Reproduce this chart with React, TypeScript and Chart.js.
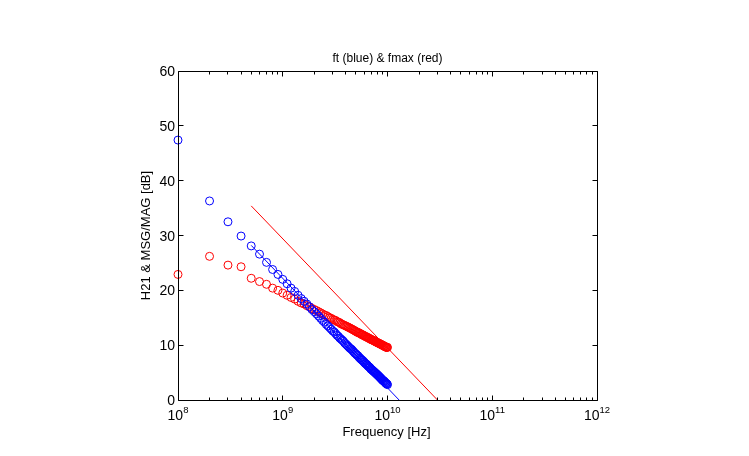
import { useEffect, useRef } from "react";
import { Chart, registerables } from "chart.js";

Chart.register(...registerables);

// Frequencies in units of 1e8 Hz (0.1 GHz ... 10 GHz)
const FREQ_E8 = [
  1, 2, 3, 4, 5, 6, 7, 8, 9, 10,
  11, 12, 13, 14, 15, 16, 17, 18, 19, 20,
  21, 22, 23, 24, 25, 26, 27, 28, 29, 30,
  31, 32, 33, 34, 35, 36, 37, 38, 39, 40,
  41, 42, 43, 44, 45, 46, 47, 48, 49, 50,
  51, 52, 53, 54, 55, 56, 57, 58, 59, 60,
  61, 62, 63, 64, 65, 66, 67, 68, 69, 70,
  71, 72, 73, 74, 75, 76, 77, 78, 79, 80,
  81, 82, 83, 84, 85, 86, 87, 88, 89, 90,
  91, 92, 93, 94, 95, 96, 97, 98, 99, 100,
];

// |H21| in dB (blue circles)
const H21_DB = [
  47.4, 36.3, 32.5, 29.9, 28.1, 26.6, 25.1, 23.8, 22.9, 22.0,
  21.2, 20.4, 19.8, 19.1, 18.5, 18.0, 17.5, 17.0, 16.5, 16.1,
  15.7, 15.3, 14.9, 14.5, 14.2, 13.8, 13.5, 13.2, 12.9, 12.6,
  12.4, 12.1, 11.8, 11.6, 11.3, 11.1, 10.9, 10.7, 10.4, 10.2,
  10.0, 9.8, 9.6, 9.4, 9.3, 9.1, 8.9, 8.7, 8.5, 8.4,
  8.2, 8.1, 7.9, 7.7, 7.6, 7.4, 7.3, 7.2, 7.0, 6.9,
  6.7, 6.6, 6.5, 6.4, 6.2, 6.1, 6.0, 5.9, 5.7, 5.6,
  5.5, 5.4, 5.3, 5.2, 5.1, 5.0, 4.9, 4.8, 4.7, 4.6,
  4.5, 4.4, 4.3, 4.2, 4.1, 4.0, 3.9, 3.8, 3.7, 3.6,
  3.5, 3.5, 3.4, 3.3, 3.2, 3.1, 3.0, 3.0, 2.9, 2.8,
];

// MSG/MAG in dB (red circles)
const MSG_DB = [
  22.9, 26.2, 24.6, 24.3, 22.2, 21.6, 21.1, 20.4, 20.0, 19.5,
  19.1, 18.7, 18.4, 18.0, 17.7, 17.5, 17.2, 17.0, 16.7, 16.5,
  16.3, 16.1, 15.9, 15.7, 15.5, 15.4, 15.2, 15.0, 14.9, 14.7,
  14.6, 14.5, 14.3, 14.2, 14.1, 13.9, 13.8, 13.7, 13.6, 13.5,
  13.4, 13.3, 13.2, 13.1, 13.0, 12.9, 12.8, 12.7, 12.6, 12.5,
  12.4, 12.3, 12.3, 12.2, 12.1, 12.0, 11.9, 11.9, 11.8, 11.7,
  11.6, 11.6, 11.5, 11.4, 11.4, 11.3, 11.2, 11.2, 11.1, 11.0,
  11.0, 10.9, 10.9, 10.8, 10.8, 10.7, 10.6, 10.6, 10.5, 10.5,
  10.4, 10.4, 10.3, 10.3, 10.2, 10.2, 10.1, 10.1, 10.0, 10.0,
  9.9, 9.9, 9.8, 9.8, 9.7, 9.7, 9.6, 9.6, 9.6, 9.6,
];

// -20 dB/decade extrapolation lines
const FT_LINE_HZ = [5e8, 1.29e10];
const FT_LINE_DB = [28.2, 0];
const FMAX_LINE_HZ = [5e8, 3.0e10];
const FMAX_LINE_DB = [35.4, 0];

// Axis ticks
const X_MAJOR_EXP = [8, 9, 10, 11, 12];
const X_MINOR_MULT = [2, 3, 4, 5, 6, 7, 8, 9];
const Y_TICKS = [0, 10, 20, 30, 40, 50, 60];

const TITLE = "ft (blue) & fmax (red)";
const X_LABEL = "Frequency [Hz]";
const Y_LABEL = "H21 & MSG/MAG [dB]";

const FONT = '"Liberation Sans", Arial, Helvetica, sans-serif';

const toPoints = (xs: number[], ys: number[], scale = 1) =>
  xs.map((x, i) => ({ x: x * scale, y: ys[i] }));

const matlabAxes = {
  id: "matlabAxes",
  afterDatasetsDraw(chart: any) {
    const { ctx, chartArea: a, scales } = chart;
    const xs = scales.x;
    const ys = scales.y;
    const L = Math.floor(a.left) + 0.5;
    const R = Math.floor(a.right) + 0.5;
    const T = Math.floor(a.top) + 0.5;
    const B = Math.floor(a.bottom) + 0.5;
    ctx.save();
    ctx.strokeStyle = "#000";
    ctx.lineWidth = 1;
    ctx.beginPath();
    ctx.rect(L, T, R - L, B - T);
    ctx.stroke();

    // x ticks
    ctx.beginPath();
    X_MAJOR_EXP.forEach((e, idx) => {
      const px = Math.floor(xs.getPixelForValue(Math.pow(10, e))) + 0.5;
      ctx.moveTo(px, B);
      ctx.lineTo(px, B - 5);
      ctx.moveTo(px, T);
      ctx.lineTo(px, T + 5);
      if (idx < X_MAJOR_EXP.length - 1) {
        X_MINOR_MULT.forEach((m) => {
          const mx = Math.floor(xs.getPixelForValue(m * Math.pow(10, e))) + 0.5;
          ctx.moveTo(mx, B);
          ctx.lineTo(mx, B - 3);
          ctx.moveTo(mx, T);
          ctx.lineTo(mx, T + 3);
        });
      }
    });
    // y ticks
    Y_TICKS.forEach((v) => {
      const py = Math.floor(ys.getPixelForValue(v)) + 0.5;
      ctx.moveTo(L, py);
      ctx.lineTo(L + 5, py);
      ctx.moveTo(R, py);
      ctx.lineTo(R - 5, py);
    });
    ctx.stroke();

    ctx.fillStyle = "#000";
    // y tick labels
    ctx.font = `14px ${FONT}`;
    ctx.textAlign = "right";
    ctx.textBaseline = "alphabetic";
    Y_TICKS.forEach((v) => {
      const py = ys.getPixelForValue(v);
      ctx.fillText(String(v), a.left - 3, py + 5);
    });

    // x tick labels 10^e
    X_MAJOR_EXP.forEach((e) => {
      const px = xs.getPixelForValue(Math.pow(10, e));
      ctx.font = `14px ${FONT}`;
      const wBase = ctx.measureText("10").width;
      ctx.font = `9.5px ${FONT}`;
      const wExp = ctx.measureText(String(e)).width;
      const x0 = px - (wBase + wExp) / 2;
      ctx.textAlign = "left";
      ctx.font = `14px ${FONT}`;
      ctx.fillText("10", x0, a.bottom + 19.5);
      ctx.font = `9.5px ${FONT}`;
      ctx.fillText(String(e), x0 + wBase, a.bottom + 13);
    });

    // title
    ctx.font = `12px ${FONT}`;
    ctx.textAlign = "center";
    ctx.fillText(TITLE, (a.left + a.right) / 2, 62);

    // x label
    ctx.font = `13px ${FONT}`;
    ctx.fillText(X_LABEL, (a.left + a.right) / 2 - 1, 436);

    // y label
    ctx.save();
    ctx.translate(149.5, (a.top + a.bottom) / 2);
    ctx.rotate(-Math.PI / 2);
    ctx.textAlign = "center";
    ctx.fillText(Y_LABEL, 0, 0);
    ctx.restore();

    ctx.restore();
  },
};

export default function App() {
  const ref = useRef<HTMLCanvasElement>(null);

  useEffect(() => {
    const canvas = ref.current;
    if (!canvas) return;
    const chart = new Chart(canvas, {
      type: "scatter",
      data: {
        datasets: [
          {
            label: "ft line",
            data: toPoints(FT_LINE_HZ, FT_LINE_DB),
            showLine: true,
            borderColor: "rgb(0,0,255)",
            borderWidth: 1,
            pointRadius: 0,
            fill: false,
          },
          {
            label: "fmax line",
            data: toPoints(FMAX_LINE_HZ, FMAX_LINE_DB),
            showLine: true,
            borderColor: "rgb(255,0,0)",
            borderWidth: 1,
            pointRadius: 0,
            fill: false,
          },
          {
            label: "H21",
            data: toPoints(FREQ_E8, H21_DB, 1e8),
            pointStyle: "circle",
            pointRadius: 4,
            pointBorderWidth: 1,
            borderColor: "rgb(0,0,255)",
            backgroundColor: "rgba(0,0,0,0)",
            showLine: false,
            clip: false as any,
          },
          {
            label: "MSG/MAG",
            data: toPoints(FREQ_E8, MSG_DB, 1e8),
            pointStyle: "circle",
            pointRadius: 4,
            pointBorderWidth: 1,
            borderColor: "rgb(255,0,0)",
            backgroundColor: "rgba(0,0,0,0)",
            showLine: false,
            clip: false as any,
          },
        ],
      },
      options: {
        responsive: false,
        animation: false,
        devicePixelRatio: 1,
        events: [],
        layout: { padding: { left: 178, top: 71, right: 152, bottom: 56 } },
        plugins: {
          legend: { display: false },
          tooltip: { enabled: false },
          title: { display: false },
        },
        scales: {
          x: {
            type: "logarithmic",
            min: 1e8,
            max: 1e12,
            ticks: { display: false },
            grid: { display: false },
            border: { display: false },
            afterFit: (s: any) => {
              s.height = 0;
            },
          },
          y: {
            type: "linear",
            min: 0,
            max: 60,
            ticks: { display: false },
            grid: { display: false },
            border: { display: false },
            afterFit: (s: any) => {
              s.width = 0;
            },
          },
        },
      },
      plugins: [matlabAxes],
    });
    return () => chart.destroy();
  }, []);

  return (
    <div
      style={{
        position: "absolute",
        left: 0,
        top: 0,
        width: 749,
        height: 456,
        background: "#fff",
      }}
    >
      <canvas ref={ref} width={749} height={456} style={{ display: "block" }} />
    </div>
  );
}
